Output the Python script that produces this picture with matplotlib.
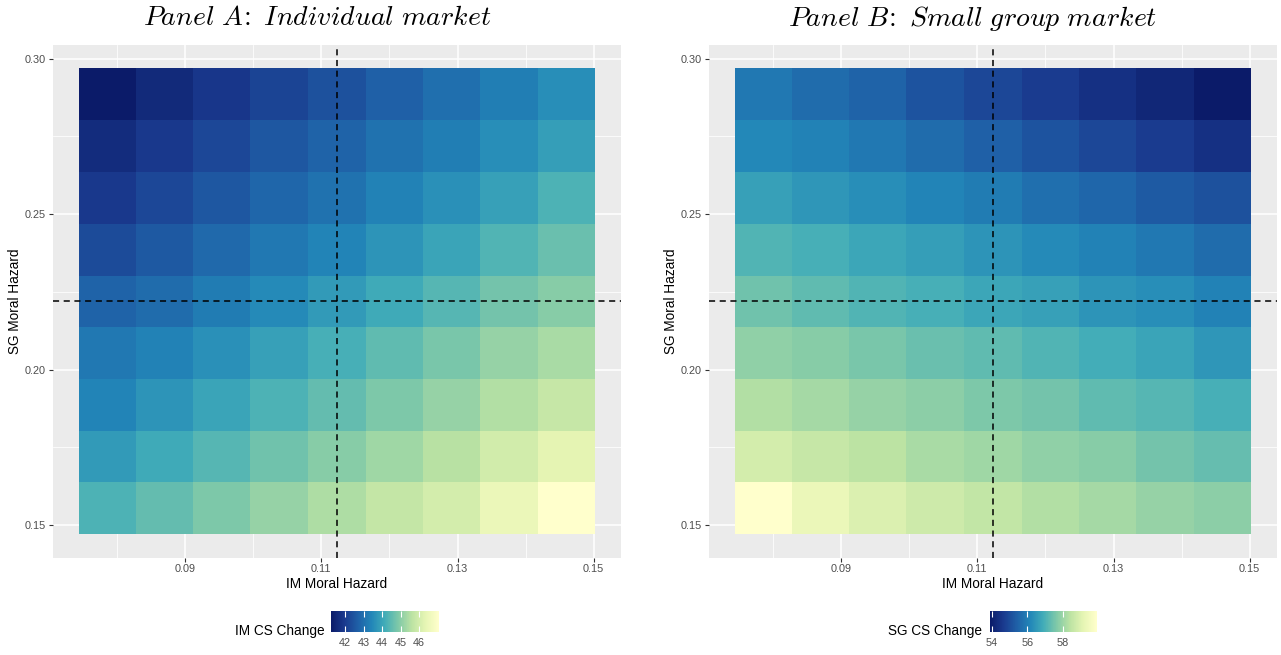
import numpy as np
import matplotlib
matplotlib.use("Agg")
import matplotlib.pyplot as plt
from matplotlib.colors import LinearSegmentedColormap

plt.rcParams['font.family'] = ['Liberation Sans', 'DejaVu Sans']
plt.rcParams['mathtext.fontset'] = 'cm'

# grid of moral hazard parameters (tile centres)
im_mh = [0.0786, 0.0870, 0.0954, 0.1038, 0.1123, 0.1207, 0.1291, 0.1375, 0.1460]
sg_mh = [0.1554, 0.1721, 0.1887, 0.2054, 0.2220, 0.2386, 0.2553, 0.2719, 0.2886]
im_base = 0.1123
sg_base = 0.2220

# IM consumer surplus change, rows from lowest SG moral hazard upward
im_cs = [
    [44.28, 44.57, 44.86, 45.15, 45.44, 45.74, 46.03, 46.50, 47.08],
    [43.81, 44.10, 44.39, 44.69, 44.98, 45.27, 45.56, 45.97, 46.32],
    [43.40, 43.69, 43.98, 44.28, 44.57, 44.86, 45.15, 45.50, 45.80],
    [43.17, 43.34, 43.63, 43.93, 44.22, 44.51, 44.80, 45.15, 45.39],
    [42.76, 42.93, 43.23, 43.52, 43.81, 44.10, 44.39, 44.74, 44.98],
    [42.29, 42.58, 42.88, 43.17, 43.40, 43.69, 43.98, 44.34, 44.63],
    [41.94, 42.23, 42.52, 42.82, 43.05, 43.34, 43.63, 43.93, 44.28],
    [41.65, 41.94, 42.23, 42.52, 42.76, 43.05, 43.28, 43.58, 43.87],
    [41.24, 41.59, 41.88, 42.17, 42.41, 42.70, 42.99, 43.28, 43.58],
]

# SG consumer surplus change
sg_cs = [
    [59.93, 59.33, 58.97, 58.72, 58.54, 58.30, 58.12, 57.94, 57.82],
    [58.84, 58.60, 58.42, 58.18, 58.06, 57.88, 57.76, 57.52, 57.34],
    [58.30, 58.12, 57.94, 57.82, 57.64, 57.52, 57.28, 57.16, 56.98],
    [57.88, 57.76, 57.58, 57.40, 57.28, 57.10, 56.92, 56.73, 56.49],
    [57.46, 57.28, 57.10, 56.98, 56.79, 56.67, 56.43, 56.31, 56.07],
    [57.10, 56.98, 56.79, 56.61, 56.43, 56.25, 56.07, 55.89, 55.65],
    [56.67, 56.49, 56.31, 56.13, 55.95, 55.71, 55.53, 55.29, 55.11],
    [56.19, 56.07, 55.89, 55.65, 55.41, 55.17, 54.93, 54.68, 54.44],
    [55.89, 55.65, 55.47, 55.17, 54.93, 54.68, 54.44, 54.20, 53.90],
]

panels = [
    (("Panel A", "Individual market"), im_cs, "IM CS Change", [42, 43, 44, 45, 46]),
    (("Panel B", "Small group market"), sg_cs, "SG CS Change", [54, 56, 58]),
]

# YlGnBu-like ramp, dark to light
ramp = ['#0b1b69', '#1a3a8e', '#1f60a7', '#2286b8', '#42adb8',
        '#80c9a8', '#bce3a3', '#e6f5b4', '#ffffcc']
cmap = LinearSegmentedColormap.from_list('ylgnbu', ramp)


def edges(c):
    c = np.asarray(c)
    h = np.diff(c).mean() / 2
    return np.concatenate([c - h, [c[-1] + h]])


def mtitle(parts):
    a, b = (p.replace(' ', r'\ ') for p in parts)
    return r'$\mathit{' + a + r'}\!:\!\!\ \ \mathit{' + b + '}$'


fig = plt.figure(figsize=(12.81, 6.55), dpi=100)
ax_pos = [[0.04137, 0.14885, 0.4434, 0.78244], [0.55347, 0.14885, 0.4434, 0.78244]]
cax_pos = [[0.2584, 0.0351, 0.0843, 0.0321], [0.7728, 0.0351, 0.0835, 0.0321]]
title_x = [0.2475, 0.759]
legtitle_x = [0.2537, 0.7666]

xe, ye = edges(im_mh), edges(sg_mh)

for i, (title, z, lab, cticks) in enumerate(panels):
    ax = fig.add_axes(ax_pos[i])
    ax.set_facecolor('#ebebeb')
    ax.set_axisbelow(True)
    mesh = ax.pcolormesh(xe, ye, np.array(z), cmap=cmap, shading='flat', zorder=2)
    ax.axvline(im_base, color='black', ls=(0, (4, 3)), lw=1.1, zorder=3)
    ax.axhline(sg_base, color='black', ls=(0, (4, 3)), lw=1.1, zorder=3)

    xr = xe[-1] - xe[0]
    yr = ye[-1] - ye[0]
    ax.set_xlim(xe[0] - 0.05 * xr, xe[-1] + 0.05 * xr)
    ax.set_ylim(ye[0] - 0.05 * yr, ye[-1] + 0.05 * yr)
    ax.set_xticks([0.09, 0.11, 0.13, 0.15])
    ax.set_xticklabels(['0.09', '0.11', '0.13', '0.15'])
    ax.set_xticks([0.08, 0.10, 0.12, 0.14], minor=True)
    ax.set_yticks([0.15, 0.20, 0.25, 0.30])
    ax.set_yticklabels(['0.15', '0.20', '0.25', '0.30'])
    ax.set_yticks([0.175, 0.225, 0.275], minor=True)
    ax.grid(which='major', color='white', lw=1.1)
    ax.grid(which='minor', color='white', lw=0.55)
    ax.tick_params(which='major', length=3, width=0.8, color='#333333',
                   labelsize=7.8, labelcolor='#4d4d4d', pad=2)
    ax.tick_params(which='minor', length=0)
    for s in ax.spines.values():
        s.set_visible(False)
    ax.set_xlabel('IM Moral Hazard', fontsize=9.8, labelpad=2)
    ax.set_ylabel('SG Moral Hazard', fontsize=9.8, labelpad=2)

    fig.text(title_x[i], 0.972, mtitle(title), fontsize=20, ha='center', va='center')

    cax = fig.add_axes(cax_pos[i])
    cb = fig.colorbar(mesh, cax=cax, orientation='horizontal', ticks=cticks)
    cb.outline.set_visible(False)
    cax.tick_params(axis='x', direction='in', color='white', length=4, width=0.8,
                    top=True, bottom=True, labelsize=7.8, labelcolor='#4d4d4d', pad=4)
    fig.text(legtitle_x[i], 0.0366, lab, fontsize=9.8, ha='right', va='center')

fig.savefig('out.png', dpi=100)
